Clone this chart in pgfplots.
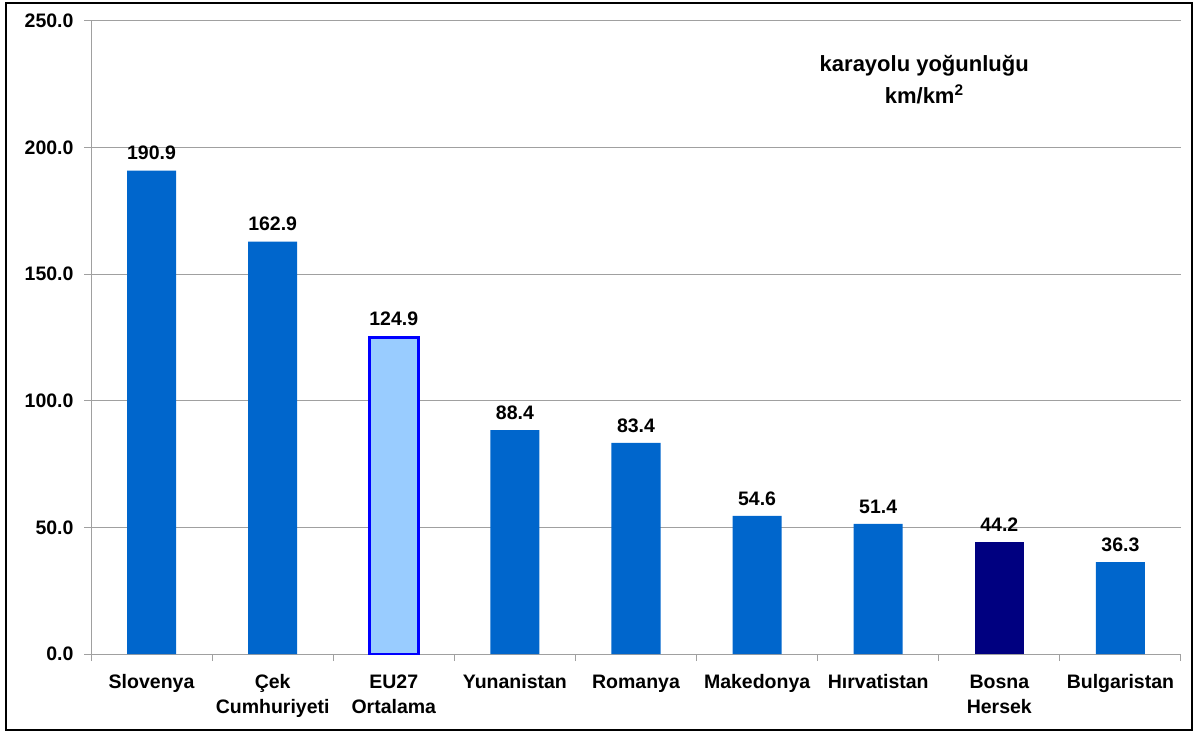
\documentclass[border=0pt]{standalone}
\usepackage{fontspec}
\setmainfont{Liberation Sans}
\usepackage{pgfplots}
\pgfplotsset{compat=1.18}
\pgfkeys{/pgf/number format/assume math mode=true}
\definecolor{barblue}{RGB}{0,102,204}
\definecolor{eufill}{RGB}{153,204,255}
\definecolor{euedge}{RGB}{0,0,255}
\definecolor{navybar}{RGB}{0,0,128}
\definecolor{gridgray}{RGB}{160,160,160}
\begin{document}
\begin{tikzpicture}
\useasboundingbox (0,0) rectangle (1198pt,733pt);
\draw[black, line width=1.3pt] (6pt,3pt) rectangle (1192pt,730pt);
\begin{axis}[
 at={(91pt,79pt)}, anchor=south west,
 scale only axis, width=1090pt, height=633pt,
 xmin=-0.5, xmax=8.5, ymin=0, ymax=250,
 axis x line=bottom, axis y line=left,
 axis line style={-, gridgray, line width=1pt},
 ymajorgrids, grid style={gridgray, line width=1pt},
 ytick={0,50,...,250},
 yticklabels={0.0,50.0,100.0,150.0,200.0,250.0},
 xtick={-0.5,0.5,...,8.5},
 xticklabels={,,,,,,,,,,},
 extra x ticks={0,1,2,3,4,5,6,7,8},
 extra x tick labels={\strut Slovenya, \strut Çek\\Cumhuriyeti, \strut EU27\\Ortalama, \strut Yunanistan, \strut Romanya, \strut Makedonya, \strut Hırvatistan, \strut Bosna\\Hersek, \strut Bulgaristan},
 extra x tick style={major tick length=0pt, grid=none},
 x tick label style={align=center, font=\fontsize{19.5}{24.5}\selectfont\bfseries, anchor=north, yshift=-14pt},
 tick align=outside,
 major tick length=7pt,
 tick style={gridgray, line width=1pt},
 ybar, bar width=49pt, bar shift=0pt,
 nodes near coords={\pgfmathprintnumber[fixed, fixed zerofill, precision=1]{\pgfplotspointmeta}},
 every node near coord/.append style={font=\fontsize{19.5}{23}\selectfont\bfseries, black, yshift=7pt},
 clip=false,
 y tick label style={font=\fontsize{19.5}{23}\selectfont\bfseries, anchor=east, xshift=-7pt},
]
\addplot[fill=barblue, draw=none] coordinates {(0,190.9) (1,162.9) (3,88.4) (4,83.4) (5,54.6) (6,51.4) (8,36.3)};
\addplot[fill=eufill, draw=euedge, line width=2.5pt] coordinates {(2,124.9)};
\addplot[fill=navybar, draw=none] coordinates {(7,44.2)};
\node[anchor=base, font=\fontsize{22}{26}\selectfont\bfseries] at (axis cs:6.38,230) {karayolu yoğunluğu};
\node[anchor=base, font=\fontsize{22}{26}\selectfont\bfseries] at (axis cs:6.38,217.6) {km/km\textsuperscript{2}};
\end{axis}
\end{tikzpicture}
\end{document}
